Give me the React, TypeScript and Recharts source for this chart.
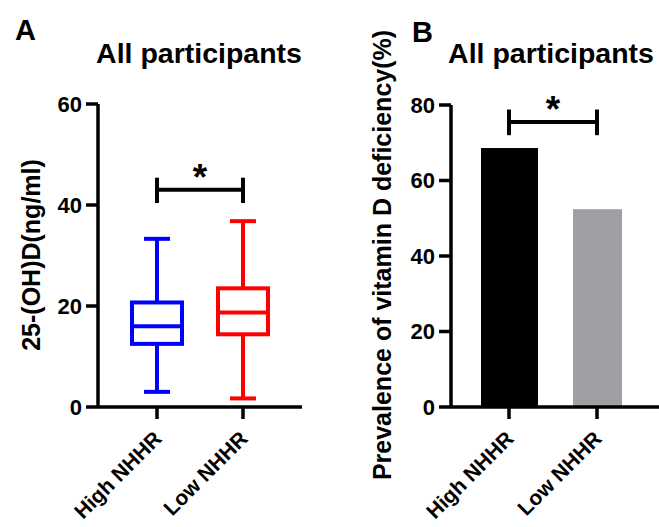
import React from 'react';
import { ComposedChart, BarChart, Bar, XAxis, YAxis, ReferenceLine, Cell } from 'recharts';

const categories = ['High NHHR', 'Low NHHR'];
const boxMin = [3.0, 1.7];
const boxQ1 = [12.5, 14.4];
const boxMedian = [16.0, 18.7];
const boxQ3 = [20.7, 23.5];
const boxMax = [33.3, 36.8];
const boxColors = ['#0000ff', '#ff0000'];

const prevalence = [68.6, 52.4];
const barColors = ['#000000', '#a09fa4'];

const ticksA = [0, 20, 40, 60];
const ticksB = [0, 20, 40, 60, 80];

const FONT = '"Liberation Sans", Arial, Helvetica, sans-serif';

const boxData = categories.map((name, i) => ({
  name,
  min: boxMin[i],
  q1: boxQ1[i],
  median: boxMedian[i],
  q3: boxQ3[i],
  max: boxMax[i],
  color: boxColors[i],
}));

const barData = categories.map((name, i) => ({ name, value: prevalence[i], color: barColors[i] }));

const BoxShape = (props: any) => {
  const { x, y, width, height, payload } = props;
  const top = Math.min(y, y + height);
  const bottom = Math.max(y, y + height);
  const span = payload.max - payload.min;
  const py = (v: number) => bottom - ((v - payload.min) / span) * (bottom - top);
  const cx = x + width / 2;
  const c = payload.color;
  const sw = 4;
  const cap = 13;
  return (
    <g>
      <line x1={cx} x2={cx} y1={py(payload.max)} y2={py(payload.q3)} stroke={c} strokeWidth={sw} />
      <line x1={cx} x2={cx} y1={py(payload.q1)} y2={py(payload.min)} stroke={c} strokeWidth={sw} />
      <line x1={cx - cap} x2={cx + cap} y1={py(payload.max)} y2={py(payload.max)} stroke={c} strokeWidth={sw} />
      <line x1={cx - cap} x2={cx + cap} y1={py(payload.min)} y2={py(payload.min)} stroke={c} strokeWidth={sw} />
      <rect x={x} y={py(payload.q3)} width={width} height={py(payload.q1) - py(payload.q3)} fill="#ffffff" stroke={c} strokeWidth={sw} />
      <line x1={x} x2={x + width} y1={py(payload.median)} y2={py(payload.median)} stroke={c} strokeWidth={sw} />
    </g>
  );
};

const BarShape = (props: any) => {
  const { x, y, width, height, index, fill } = props;
  const grow = index === 0 ? 4 : 0;
  return <rect x={x - grow} y={y} width={width + grow * 2} height={height} fill={fill} />;
};

const XTick = (props: any) => {
  const { x, y, payload } = props;
  const ax = x + 6;
  const ay = y + 19;
  return (
    <text
      x={ax}
      y={ay}
      textAnchor="end"
      transform={`rotate(-45, ${ax}, ${ay})`}
      fontSize={21}
      fontWeight="bold"
      fontFamily={FONT}
      fill="#000"
    >
      {payload.value}
    </text>
  );
};

const yTickStyle = { fontSize: 22, fontWeight: 'bold', fill: '#000', fontFamily: FONT } as any;
const axisLine = { stroke: '#000', strokeWidth: 3.5 };
const starLabel = { value: '*', position: 'top', offset: 0, fontSize: 37, fontWeight: 'bold', fill: '#000', fontFamily: FONT } as any;

export default function App() {
  return (
    <div style={{ position: 'absolute', left: 0, top: 0, width: 659, height: 527, background: '#fff', fontFamily: FONT }}>
      <div style={{ position: 'absolute', left: 0, top: 0 }}>
        <ComposedChart width={330} height={527} data={boxData} margin={{ top: 104, right: 28, bottom: 20, left: 38 }}>
          <XAxis
            dataKey="name"
            type="category"
            padding={{ left: 16, right: 16 }}
            axisLine={axisLine}
            tickLine={axisLine}
            tickSize={12}
            height={100}
            interval={0}
            tick={<XTick />}
          />
          <YAxis
            domain={[0, 60]}
            ticks={ticksA}
            width={60}
            axisLine={axisLine}
            tickLine={axisLine}
            tickSize={12}
            tickMargin={4}
            tick={yTickStyle}
            allowDataOverflow
          />
          <Bar dataKey={(d: any) => [d.min, d.max]} barSize={50} shape={<BoxShape />} isAnimationActive={false} />
          <ReferenceLine segment={[{ x: 'High NHHR', y: 43 }, { x: 'Low NHHR', y: 43 }]} stroke="#000" strokeWidth={4} label={starLabel} />
          <ReferenceLine segment={[{ x: 'High NHHR', y: 40.4 }, { x: 'High NHHR', y: 45.4 }]} stroke="#000" strokeWidth={4} />
          <ReferenceLine segment={[{ x: 'Low NHHR', y: 40.4 }, { x: 'Low NHHR', y: 45.4 }]} stroke="#000" strokeWidth={4} />
        </ComposedChart>
      </div>
      <div style={{ position: 'absolute', left: 330, top: 0 }}>
        <BarChart width={329} height={527} data={barData} margin={{ top: 105, right: 0, bottom: 20, left: 61 }}>
          <XAxis
            dataKey="name"
            type="category"
            padding={{ left: 14, right: 18 }}
            axisLine={axisLine}
            tickLine={axisLine}
            tickSize={12}
            height={100}
            interval={0}
            tick={<XTick />}
          />
          <YAxis
            domain={[0, 80]}
            ticks={ticksB}
            width={60}
            axisLine={axisLine}
            tickLine={axisLine}
            tickSize={12}
            tickMargin={4}
            tick={yTickStyle}
            allowDataOverflow
          />
          <Bar dataKey="value" barSize={49} shape={<BarShape />} isAnimationActive={false}>
            {barData.map((d, i) => (
              <Cell key={i} fill={d.color} />
            ))}
          </Bar>
          <ReferenceLine segment={[{ x: 'High NHHR', y: 75.5 }, { x: 'Low NHHR', y: 75.5 }]} stroke="#000" strokeWidth={4} label={starLabel} />
          <ReferenceLine segment={[{ x: 'High NHHR', y: 72 }, { x: 'High NHHR', y: 78.8 }]} stroke="#000" strokeWidth={4} />
          <ReferenceLine segment={[{ x: 'Low NHHR', y: 72 }, { x: 'Low NHHR', y: 78.8 }]} stroke="#000" strokeWidth={4} />
        </BarChart>
      </div>
      <svg width={659} height={527} style={{ position: 'absolute', left: 0, top: 0, pointerEvents: 'none' }}>
        <g fontFamily={FONT} fontWeight="bold" fill="#000">
          <text x={15} y={40} fontSize={29}>A</text>
          <text x={412} y={42} fontSize={29}>B</text>
          <text x={199} y={63} fontSize={28.5} textAnchor="middle">All participants</text>
          <text x={551} y={63} fontSize={28.5} textAnchor="middle">All participants</text>
          <text x={40} y={255} fontSize={25} textAnchor="middle" transform="rotate(-90, 40, 255)">25-(OH)D(ng/ml)</text>
          <text x={391} y={255} fontSize={25} textAnchor="middle" transform="rotate(-90, 391, 255)">Prevalence of vitamin D deficiency(%)</text>
        </g>
      </svg>
    </div>
  );
}
